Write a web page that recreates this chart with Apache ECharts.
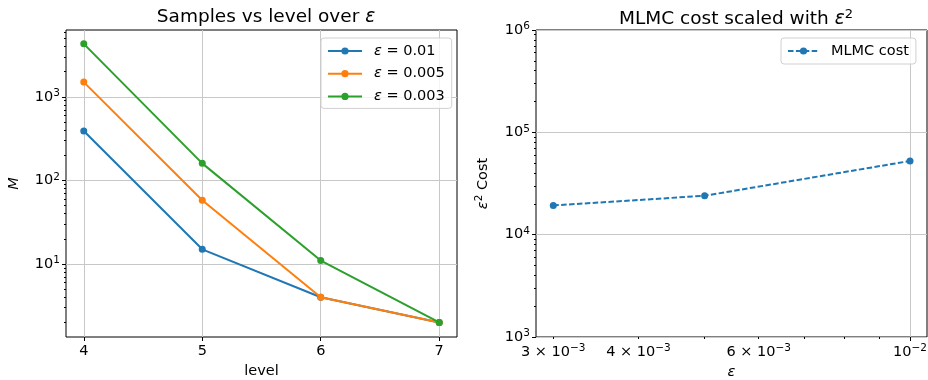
<!DOCTYPE html>
<html><head><meta charset="utf-8">
<script src="https://cdn.jsdelivr.net/npm/echarts@6/dist/echarts.min.js"></script>
<style>html,body{margin:0;padding:0;background:#fff}#c{width:928px;height:380px}</style>
</head><body><div id="c"></div>
<script>
// ---- data ----
const levels = [4, 5, 6, 7];
const M_eps001 = [390, 15, 4, 2];
const M_eps0005 = [1500, 58, 4, 2];
const M_eps0003 = [4300, 160, 11, 2];
const seriesNames = ['eps001', 'eps0005', 'eps0003'];
const seriesLabels = ['0.01', '0.005', '0.003'];
const epsValues = [0.003, 0.005, 0.01];
const mlmcCost = [19300, 24000, 52500];
// ---- tick labels ----
const leftXTicks = [4, 5, 6, 7];
const leftYMajor = [10, 100, 1000];
const leftYMinor = [2,3,4,5,6,7,8,9,20,30,40,50,60,70,80,90,200,300,400,500,600,700,800,900,2000,3000,4000,5000,6000];
const rightXLabels = [0.003, 0.004, 0.006, 0.01];
const rightXMajor = [0.01];
const rightXMinor = [0.003,0.004,0.005,0.006,0.007,0.008,0.009];
const rightYMajor = [1000, 10000, 100000, 1000000];
const rightYMinor = [2000,3000,4000,5000,6000,7000,8000,9000,20000,30000,40000,50000,60000,70000,80000,90000,200000,300000,400000,500000,600000,700000,800000,900000];

const colors = ['#1f77b4', '#ff7f0e', '#2ca02c'];
const FONT = 'DejaVu Sans';
const FS = 14.5;
const richBase = {
  b: {fontSize: FS, fontFamily: FONT, color: '#000'},
  sup: {fontSize: 10.5, fontFamily: FONT, color: '#000', verticalAlign: 'top', padding: [0, 0, 7, 0]},
  i: {fontSize: FS, fontFamily: FONT, fontStyle: 'italic', color: '#000', lineHeight: 16},
  t: {fontSize: FS, fontFamily: FONT, color: '#000', lineHeight: 16}
};
function expStr(e) { return e < 0 ? '\u2212' + (-e) : String(e); }
function pow10Label(v) {
  const e = Math.round(Math.log10(v));
  return '{b|10}{sup|' + expStr(e) + '}';
}
function mantLabel(v) {
  const e = Math.floor(Math.log10(v) + 1e-9);
  const m = Math.round(v / Math.pow(10, e));
  if (m === 1) return pow10Label(v);
  return '{b|' + m + ' \u00d7 10}{sup|' + expStr(e) + '}';
}

const chart = echarts.init(document.getElementById('c'), null, {renderer: 'canvas'});
const seriesData = [M_eps001, M_eps0005, M_eps0003];
const titleRich = {
  i: {fontSize: 18.5, fontFamily: FONT, fontStyle: 'italic', color: '#000'},
  s: {fontSize: 13, fontFamily: FONT, color: '#000', verticalAlign: 'top', padding: [0, 0, 9, 0]}
};
const tickStyle = {color: '#000', width: 1};
const gridLine = {show: true, lineStyle: {color: '#c8c8c8', width: 1}};

const option = {
  animation: false,
  backgroundColor: '#fff',
  title: [
    {text: 'Samples vs level over {i|ε}', left: 261, top: 3, textAlign: 'center',
      textStyle: {fontSize: 18.5, fontFamily: FONT, fontWeight: 'normal', color: '#000', rich: titleRich}},
    {text: 'MLMC cost scaled with {i|ε}{s|2}', left: 731, top: 3, textAlign: 'center',
      textStyle: {fontSize: 18.5, fontFamily: FONT, fontWeight: 'normal', color: '#000', rich: titleRich}}
  ],
  grid: [
    {left: 66, right: 471, top: 30, bottom: 43, outerBoundsMode: 'none', containLabel: false, show: true, borderColor: '#000', borderWidth: 1},
    {left: 536, right: 1, top: 30, bottom: 43, outerBoundsMode: 'none', containLabel: false, show: true, borderColor: '#000', borderWidth: 1}
  ],
  legend: [
    {data: seriesNames.slice(), orient: 'vertical', left: 321, top: 38, itemWidth: 34, itemHeight: 9, itemGap: 6.7,
      padding: [5, 7, 4, 6], backgroundColor: 'rgba(255,255,255,0.8)', borderColor: '#d0d0d0', borderWidth: 1, borderRadius: 3,
      formatter: function (n) { return '{i|ε}{t| = ' + seriesLabels[seriesNames.indexOf(n)] + '}'; },
      textStyle: {fontSize: FS, fontFamily: FONT, color: '#000', lineHeight: 16, padding: [0, 0, 0, 7], rich: richBase}},
    {data: ['MLMC cost'], orient: 'vertical', left: 781, top: 38, itemWidth: 31, itemHeight: 9,
      padding: [5, 7, 5, 6], backgroundColor: 'rgba(255,255,255,0.8)', borderColor: '#d0d0d0', borderWidth: 1, borderRadius: 3,
      textStyle: {fontSize: FS, fontFamily: FONT, color: '#000', lineHeight: 16, padding: [0, 0, 0, 7]}}
  ],
  xAxis: [
    {type: 'value', gridIndex: 0, position: 'bottom', min: 3.85, max: 7.15, name: 'level', nameLocation: 'middle', nameGap: 25,
      nameTextStyle: {fontSize: FS, fontFamily: FONT, color: '#000'},
      axisLine: {show: false},
      axisTick: {show: true, length: 4, customValues: leftXTicks, lineStyle: tickStyle},
      axisLabel: {customValues: leftXTicks, fontSize: FS, fontFamily: FONT, color: '#000', margin: 7},
      splitLine: gridLine},
    {type: 'log', gridIndex: 1, position: 'bottom', min: 0.00283, max: 0.01059, name: 'ε', nameLocation: 'middle', nameGap: 27,
      nameTextStyle: {fontSize: FS, fontFamily: FONT, fontStyle: 'italic', color: '#000'},
      axisLine: {show: false},
      axisTick: {show: true, length: 4, customValues: rightXMajor, lineStyle: tickStyle},
      axisLabel: {customValues: rightXLabels, formatter: mantLabel, rich: richBase, margin: 6},
      splitLine: gridLine},
    {type: 'log', gridIndex: 1, position: 'bottom', min: 0.00283, max: 0.01059,
      axisLine: {show: false}, axisLabel: {show: false}, splitLine: {show: false},
      axisTick: {show: true, length: 2, customValues: rightXMinor, lineStyle: tickStyle}}
  ],
  yAxis: [
    {type: 'log', gridIndex: 0, position: 'left', min: 1.34, max: 6300, name: 'M', nameLocation: 'middle', nameGap: 44,
      nameTextStyle: {fontSize: FS, fontFamily: FONT, fontStyle: 'italic', color: '#000'},
      axisLine: {show: false},
      axisTick: {show: true, length: 4, customValues: leftYMajor, lineStyle: tickStyle},
      axisLabel: {customValues: leftYMajor, formatter: pow10Label, rich: richBase, margin: 6},
      splitLine: gridLine},
    {type: 'log', gridIndex: 0, position: 'left', min: 1.34, max: 6300,
      axisLine: {show: false}, axisLabel: {show: false}, splitLine: {show: false},
      axisTick: {show: true, length: 2, customValues: leftYMinor, lineStyle: tickStyle}},
    {type: 'log', gridIndex: 1, position: 'left', min: 1000, max: 1000000, name: '{i|ε}{s|2}{t| Cost}', nameLocation: 'middle', nameGap: 44,
      nameTextStyle: {fontSize: FS, fontFamily: FONT, color: '#000',
        rich: {i: {fontSize: FS, fontFamily: FONT, fontStyle: 'italic', color: '#000'},
               s: {fontSize: 10.5, fontFamily: FONT, color: '#000', verticalAlign: 'top', padding: [0, 0, 7, 0]},
               t: {fontSize: FS, fontFamily: FONT, color: '#000'}}},
      axisLine: {show: false},
      axisTick: {show: true, length: 4, customValues: rightYMajor, lineStyle: tickStyle},
      axisLabel: {customValues: rightYMajor, formatter: pow10Label, rich: richBase, margin: 6},
      splitLine: gridLine},
    {type: 'log', gridIndex: 1, position: 'left', min: 1000, max: 1000000,
      axisLine: {show: false}, axisLabel: {show: false}, splitLine: {show: false},
      axisTick: {show: true, length: 2, customValues: rightYMinor, lineStyle: tickStyle}}
  ],
  series: seriesNames.map(function (n, k) {
    return {name: n, type: 'line', xAxisIndex: 0, yAxisIndex: 0,
      data: levels.map(function (l, j) { return [l, seriesData[k][j]]; }),
      symbol: 'circle', symbolSize: 7, showSymbol: true,
      lineStyle: {color: colors[k], width: 2}, itemStyle: {color: colors[k]}, z: 3 + k};
  }).concat([{
    name: 'MLMC cost', type: 'line', xAxisIndex: 1, yAxisIndex: 2,
    data: epsValues.map(function (e, j) { return [e, mlmcCost[j]]; }),
    symbol: 'circle', symbolSize: 7,
    lineStyle: {color: colors[0], width: 2, type: [5.5, 2.4]}, itemStyle: {color: colors[0]}
  }])
};
chart.setOption(option);
</script>
</body></html>
